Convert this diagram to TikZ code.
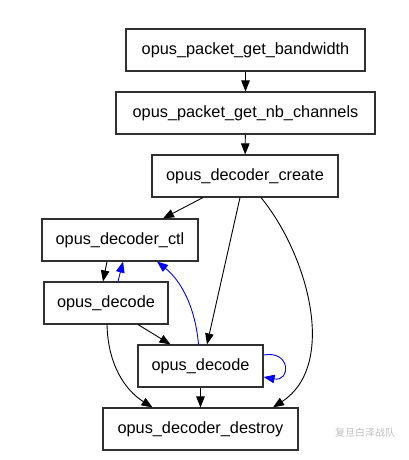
\documentclass[tikz,border=0pt]{standalone}
\usepackage{fontspec}
\setmainfont{Liberation Sans}
\newfontfamily\cjk{Noto Sans CJK SC}
\usetikzlibrary{arrows.meta}
\definecolor{boxline}{HTML}{303030}
\tikzset{
  fbox/.style={draw=boxline, line width=1.1pt, inner sep=0pt, minimum height=42pt,
    font=\fontsize{16.3}{19}\selectfont},
  edge/.style={draw=black, line width=0.9pt, -{Triangle[length=11pt,width=8.5pt]}},
  bedge/.style={edge, draw=blue, -{Triangle[length=11pt,width=8.5pt,fill=blue]}, color=blue},
}
\begin{document}
\begin{tikzpicture}[x=1pt,y=-1pt]
\useasboundingbox (0,0) rectangle (408,460);
\node[fbox, minimum width=239pt] (bw) at (245.5,50) {opus\_packet\_get\_bandwidth};
\node[fbox, minimum width=259pt] (nb) at (245.5,113) {opus\_packet\_get\_nb\_channels};
\node[fbox, minimum width=186pt] (cr) at (245,176) {opus\_decoder\_create};
\node[fbox, minimum width=156pt] (ctl) at (120,240) {opus\_decoder\_ctl};
\node[fbox, minimum width=124pt] (da) at (106,303) {opus\_decode};
\node[fbox, minimum width=125pt] (db) at (200.5,366) {opus\_decode};
\node[fbox, minimum width=195pt] (ds) at (200.5,429) {opus\_decoder\_destroy};

\draw[edge] (bw) -- (nb);
\draw[edge] (nb) -- (cr);
\draw[edge] ([xshift=-42pt]cr.south) -- ([xshift=43pt]ctl.north);
\draw[edge] ([xshift=-5pt]cr.south) -- ([xshift=6.5pt]db.north);
\draw[edge] ([xshift=16pt]cr.south) .. controls (308,255) and (338,365) .. ([xshift=72.5pt]ds.north);
\draw[edge] ([xshift=-13pt]ctl.south) -- ([xshift=-3pt]da.north);
\draw[bedge] ([xshift=12pt]da.north) -- ([xshift=3pt]ctl.south);
\draw[bedge] ([xshift=-2pt]db.north) .. controls (195,305) and (180,280) .. ([xshift=37pt]ctl.south);
\draw[edge] ([xshift=32pt]da.south) -- ([xshift=-30pt]db.north);
\draw[edge] ([xshift=1pt]da.south) .. controls (108,365) and (125,390) .. ([xshift=-48pt]ds.north);
\draw[edge] (db) -- (ds);
\draw[bedge] ([yshift=11pt]db.east) .. controls (291,350) and (291,382) .. ([yshift=-11pt]db.east);

\node[text=black!25, font=\cjk\fontsize{10}{12}\selectfont, inner sep=0pt, anchor=west] (wm) at (335,433) {复旦白泽战队};
\end{tikzpicture}
\end{document}
